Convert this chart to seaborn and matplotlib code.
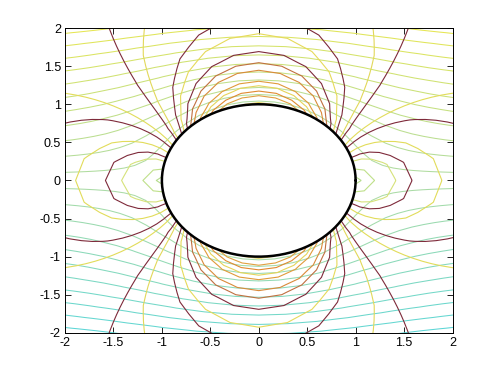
import numpy as np
import matplotlib
matplotlib.use("Agg")
import matplotlib.pyplot as plt
import seaborn as sns

# ---- data / parameters ----
U_inf = 1.0          # free-stream speed
radius = 1.0         # cylinder radius
r_nodes = 21         # polar grid resolution (coarse, as in the original)
theta_nodes = 41

# stream-function contour levels (symmetric about 0)
psi_levels = [-1.68, -1.52, -1.36, -1.20, -1.04, -0.88, -0.72, -0.56, -0.40, -0.24, -0.08,
              0.08, 0.24, 0.40, 0.56, 0.72, 0.88, 1.04, 1.20, 1.36, 1.52, 1.68]

# speed contour levels and their colours
speed_levels = [0.10, 0.30, 0.50, 0.60, 0.72, 0.85, 0.92, 1.05, 1.10, 1.21, 1.27,
                1.35, 1.42, 1.48, 1.59, 1.65, 1.73, 1.81, 1.96]
speed_colors = ["#b5dc8c", "#bfe08a", "#d6e27a", "#7e2a3a", "#e2dc5a", "#7e2a3a",
                "#e2dc5a", "#7e2a3a", "#e2d85a", "#7e2a3a", "#e6da5a",
                "#7e2a3a", "#c07040", "#d98a3a", "#e09a3a", "#e6d45a", "#e08a30",
                "#e0a040", "#e6d860"]

x_ticks = [-2, -1.5, -1, -0.5, 0, 0.5, 1, 1.5, 2]
y_ticks = [-2, -1.5, -1, -0.5, 0, 0.5, 1, 1.5, 2]

# ---- fields on a polar grid ----
r = np.linspace(radius, 3.0, r_nodes)
th = np.linspace(0, 2 * np.pi, theta_nodes)
R, TH = np.meshgrid(r, th)
X = R * np.cos(TH)
Y = R * np.sin(TH)
PSI = U_inf * (R - radius**2 / R) * np.sin(TH)
SPEED = U_inf * np.sqrt(1 - 2 * radius**2 * np.cos(2 * TH) / R**2 + radius**4 / R**4)

# stream line colours: cyan -> pale green -> yellow (jet-like, washed out)
def blend(c1, c2, t):
    return tuple((1 - t) * a + t * b for a, b in zip(c1, c2))

cyan = (0.36, 0.84, 0.84)
green = (0.68, 0.86, 0.64)
yellow = (0.90, 0.90, 0.32)
pmax = max(psi_levels)
psi_colors = []
for v in psi_levels:
    t = v / pmax
    psi_colors.append(blend(green, yellow, t) if t >= 0 else blend(green, cyan, -t))

# ---- plot ----
sns.set_style("ticks", {"xtick.direction": "in", "ytick.direction": "in"})
plt.rcParams["font.family"] = ["Liberation Sans", "DejaVu Sans"]

fig = plt.figure(figsize=(5.0, 3.74), dpi=100)
ax = fig.add_axes([0.13, 0.11, 0.775, 0.815])

ax.contour(X, Y, PSI, levels=psi_levels, colors=psi_colors, linewidths=0.75)
ax.contour(X, Y, SPEED, levels=speed_levels, colors=speed_colors, linewidths=0.8)

circ = np.linspace(0, 2 * np.pi, 200)
ax.plot(radius * np.cos(circ), radius * np.sin(circ), color="black", lw=1.8)

ax.set_xlim(-2, 2)
ax.set_ylim(-2, 2)
ax.set_xticks(x_ticks)
ax.set_yticks(y_ticks)
ax.set_xticklabels([f"{v:g}" for v in x_ticks])
ax.set_yticklabels([f"{v:g}" for v in y_ticks])
ax.tick_params(top=True, right=True, direction="in", length=4, width=0.6,
               labelsize=9, colors="black", pad=3)
for s in ax.spines.values():
    s.set_linewidth(0.7)
    s.set_color("black")

fig.savefig("out.png", dpi=100, facecolor="white")
